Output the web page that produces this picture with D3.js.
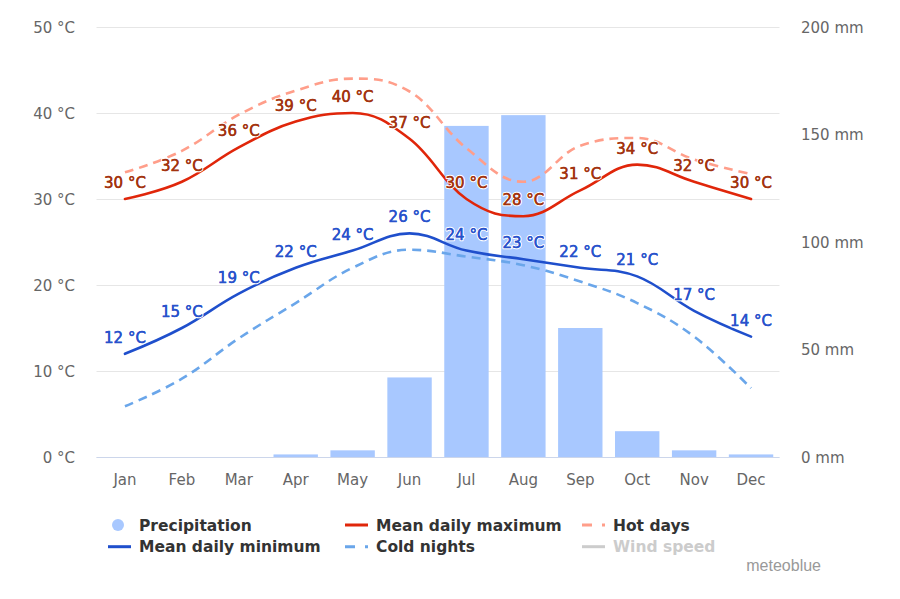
<!DOCTYPE html>
<html>
<head>
<meta charset="utf-8">
<script src="https://cdn.jsdelivr.net/npm/d3@7"></script>
<style>
  html, body { margin: 0; padding: 0; background: #fff; }
  svg { display: block; font-family: "DejaVu Sans", sans-serif; }
</style>
</head>
<body>
<svg id="chart" width="900" height="599"></svg>
<script>
// ---- data ----
const months = ["Jan","Feb","Mar","Apr","May","Jun","Jul","Aug","Sep","Oct","Nov","Dec"];
const precipitation = [0, 0, 0, 1.2, 3.1, 37, 154, 159, 60, 12, 3.1, 1.2];
const meanMax = [30, 32, 36, 39, 40, 37, 30, 28, 31, 34, 32, 30];
const hotDays = [33.1, 35.6, 39.8, 42.6, 44, 42.5, 35.9, 32, 36.2, 37.1, 34.6, 32.9];
const meanMin = [12, 15, 19, 22, 24, 26, 24, 23, 22, 21, 17, 14];
const coldNights = [5.9, 9.1, 13.8, 17.9, 22, 24.1, 23.3, 22.3, 20.4, 17.9, 14, 8];
const tempTicks = [0, 10, 20, 30, 40, 50];
const precTicks = [0, 50, 100, 150, 200];

// ---- layout ----
const L = 96.5, R = 779.5, T = 27, B = 457;
const svg = d3.select("#chart");

const x = d3.scaleBand().domain(months).range([L, R]).paddingInner(0.22).paddingOuter(0.11);
const cx = m => x(m) + x.bandwidth() / 2;
const yT = d3.scaleLinear().domain([0, 50]).range([B, T]);
const yP = d3.scaleLinear().domain([0, 200]).range([B, T]);

// Highcharts-like spline curve
function HCSpline(context) { this._context = context; }
HCSpline.prototype = {
  areaStart() {}, areaEnd() {},
  lineStart() { this._pts = []; },
  point(px, py) { this._pts.push([+px, +py]); },
  lineEnd() {
    const p = this._pts, c = this._context, n = p.length;
    if (!n) return;
    c.moveTo(p[0][0], p[0][1]);
    const ctrl = p.map(() => ({}));
    const sm = 1.5, den = sm + 1;
    for (let i = 1; i < n - 1; i++) {
      const [px, py] = p[i], [lx, ly] = p[i - 1], [nx, ny] = p[i + 1];
      let lcx = (sm * px + lx) / den, lcy = (sm * py + ly) / den;
      let rcx = (sm * px + nx) / den, rcy = (sm * py + ny) / den;
      if (rcx !== lcx) {
        const corr = ((rcy - lcy) * (rcx - px)) / (rcx - lcx) + py - rcy;
        lcy += corr; rcy += corr;
      }
      if (lcy > ly && lcy > py) { lcy = Math.max(ly, py); rcy = 2 * py - lcy; }
      else if (lcy < ly && lcy < py) { lcy = Math.min(ly, py); rcy = 2 * py - lcy; }
      if (rcy > ny && rcy > py) { rcy = Math.max(ny, py); lcy = 2 * py - rcy; }
      else if (rcy < ny && rcy < py) { rcy = Math.min(ny, py); lcy = 2 * py - rcy; }
      ctrl[i] = { lcx, lcy, rcx, rcy };
    }
    for (let i = 1; i < n; i++) {
      const a = ctrl[i - 1], b = ctrl[i];
      c.bezierCurveTo(
        a.rcx !== undefined ? a.rcx : p[i - 1][0], a.rcy !== undefined ? a.rcy : p[i - 1][1],
        b.lcx !== undefined ? b.lcx : p[i][0], b.lcy !== undefined ? b.lcy : p[i][1],
        p[i][0], p[i][1]);
    }
  }
};
const hcCurve = ctx => new HCSpline(ctx);

// ---- gridlines ----
svg.append("g").selectAll("line").data(tempTicks).join("line")
  .attr("x1", L).attr("x2", R)
  .attr("y1", d => Math.round(yT(d)) + 0.5).attr("y2", d => Math.round(yT(d)) + 0.5)
  .attr("stroke", "#e6e6e6").attr("stroke-width", 1);

// x axis line
svg.append("line").attr("x1", L).attr("x2", R)
  .attr("y1", Math.round(B) + 0.5).attr("y2", Math.round(B) + 0.5)
  .attr("stroke", "#ccd6eb").attr("stroke-width", 1);

// ---- axes labels ----
const axisStyle = sel => sel.attr("font-size", 15).attr("fill", "#666");
svg.append("g").selectAll("text").data(tempTicks).join("text")
  .attr("x", 75).attr("y", d => yT(d) + 5.5).attr("text-anchor", "end")
  .text(d => d + " °C").call(axisStyle);
svg.append("g").selectAll("text").data(precTicks).join("text")
  .attr("x", 801).attr("y", d => yP(d) + 5.5).attr("text-anchor", "start")
  .text(d => d + " mm").call(axisStyle);
svg.append("g").selectAll("text").data(months).join("text")
  .attr("x", d => cx(d)).attr("y", 485).attr("text-anchor", "middle")
  .text(d => d).call(axisStyle);

// ---- bars ----
svg.append("g").selectAll("rect").data(months).join("rect")
  .attr("x", d => x(d)).attr("width", x.bandwidth())
  .attr("y", (d, i) => yP(precipitation[i]))
  .attr("height", (d, i) => B - yP(precipitation[i]))
  .attr("fill", "#a8c8ff");

// ---- lines ----
const line = d3.line().x((d, i) => cx(months[i])).y(d => yT(d)).curve(hcCurve);
const series = [
  { data: coldNights, color: "#6aa6ea", dash: "9,6" },
  { data: meanMin, color: "#1f4fcc", dash: null },
  { data: hotDays, color: "#ff9e8a", dash: "9,6" },
  { data: meanMax, color: "#e0260a", dash: null }
];
series.forEach(s => {
  svg.append("path").attr("d", line(s.data))
    .attr("fill", "none").attr("stroke", s.color).attr("stroke-width", 2.6)
    .attr("stroke-linecap", s.dash ? "butt" : "round")
    .attr("stroke-linejoin", "round")
    .attr("stroke-dasharray", s.dash);
});

// ---- data labels ----
function labels(data, color) {
  svg.append("g").selectAll("text").data(data).join("text")
    .attr("x", (d, i) => cx(months[i])).attr("y", d => yT(d) - 11)
    .attr("text-anchor", "middle").attr("font-size", 15)
    .attr("fill", color).attr("stroke", "#fff").attr("stroke-width", 2.5)
    .attr("stroke-linejoin", "round").attr("paint-order", "stroke")
    .text(d => Math.round(d) + " °C");
  // slight emphasis to mimic semi-bold rendering
  svg.append("g").selectAll("text").data(data).join("text")
    .attr("x", (d, i) => cx(months[i])).attr("y", d => yT(d) - 11)
    .attr("text-anchor", "middle").attr("font-size", 15)
    .attr("fill", color).attr("stroke", color).attr("stroke-width", 0.35)
    .text(d => Math.round(d) + " °C");
}
labels(meanMax, "#a3330f");
labels(meanMin, "#2852cc");

// ---- legend ----
const legend = [
  { name: "Precipitation", type: "circle", color: "#a8c8ff", col: 0, row: 0 },
  { name: "Mean daily maximum", type: "line", color: "#e0260a", col: 1, row: 0 },
  { name: "Hot days", type: "dash", color: "#ff9e8a", col: 2, row: 0 },
  { name: "Mean daily minimum", type: "line", color: "#1f4fcc", col: 0, row: 1 },
  { name: "Cold nights", type: "dash", color: "#6aa6ea", col: 1, row: 1 },
  { name: "Wind speed", type: "line", color: "#cccccc", col: 2, row: 1, hidden: true }
];
const lg = svg.append("g");
legend.forEach(d => {
  const x0 = 108 + d.col * 237, yy = 525 + d.row * 21.7;
  const g = lg.append("g");
  if (d.type === "circle") {
    g.append("circle").attr("cx", x0 + 10).attr("cy", yy).attr("r", 6).attr("fill", d.color);
  } else {
    g.append("line").attr("x1", x0).attr("x2", x0 + 23).attr("y1", yy).attr("y2", yy)
      .attr("stroke", d.color).attr("stroke-width", 3)
      .attr("stroke-dasharray", d.type === "dash" ? "10,10" : null);
  }
  g.append("text").attr("x", x0 + 31).attr("y", yy + 5.5)
    .attr("font-size", 15.5).attr("font-weight", "bold")
    .attr("fill", d.hidden ? "#cccccc" : "#333333").text(d.name);
});

// credit
svg.append("text").attr("x", 821).attr("y", 571).attr("text-anchor", "end")
  .attr("font-family", "'Liberation Sans', Arial, sans-serif")
  .attr("font-size", 16).attr("fill", "#999").text("meteoblue");
</script>
</body>
</html>
